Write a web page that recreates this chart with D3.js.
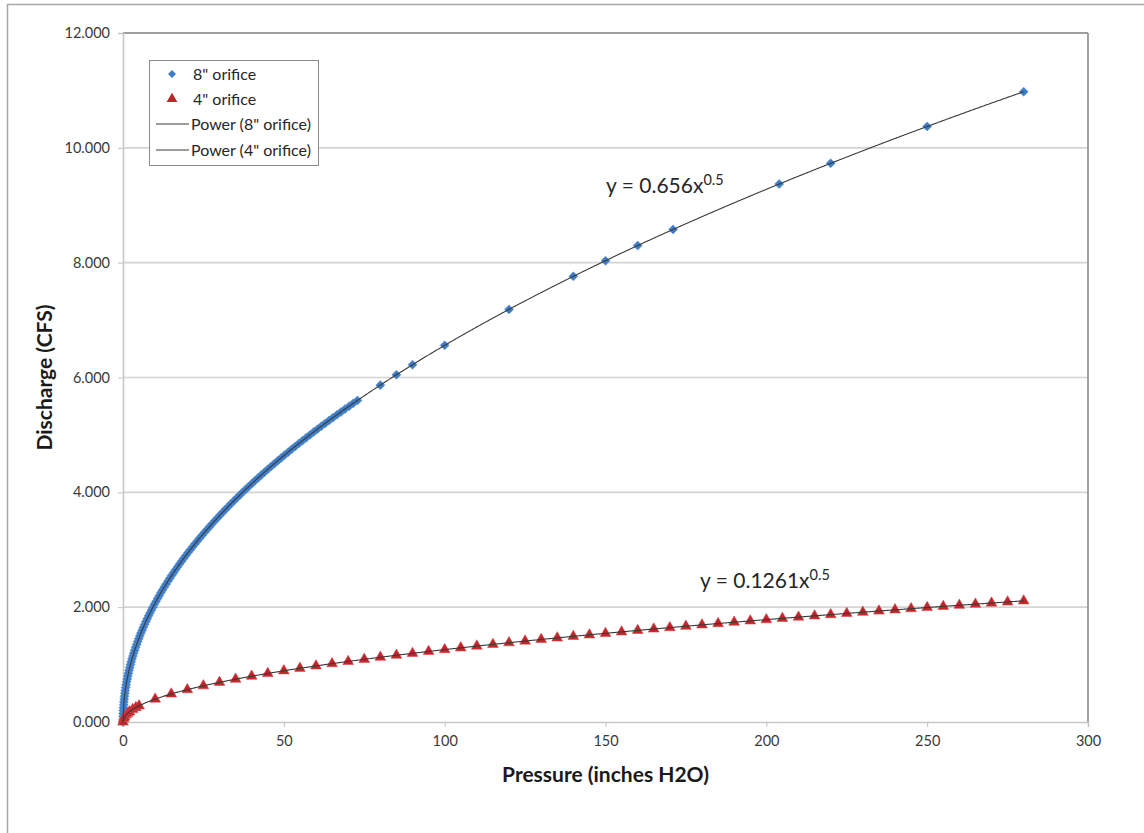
<!DOCTYPE html>
<html><head><meta charset="utf-8">
<script src="https://cdn.jsdelivr.net/npm/d3@7"></script>
<style>
html,body{margin:0;padding:0;background:#fff;}
svg{display:block;font-family:Lato,"Open Sans",sans-serif;}
</style></head><body>
<svg id="chart" width="1144" height="833"></svg>
<script>
// 8" orifice, dense low-pressure readings
const dense8X = [0,0.01,0.02,0.05,0.09,0.15,0.21,0.28,0.37,0.47,0.58,0.70,0.84,0.98,1.14,1.31,1.49,1.68,1.88,2.10,2.32,2.56,2.81,3.07,3.35,3.63,3.93,4.24,4.55,4.89,5.23,5.58,5.95,6.33,6.72,7.12,7.53,7.95,8.39,8.84,9.30,9.77,10.25,10.74,11.25,11.76,12.29,12.83,13.38,13.95,14.52,15.11,15.71,16.32,16.94,17.57,18.22,18.87,19.54,20.22,20.91,21.62,22.33,23.06,23.80,24.54,25.31,26.08,26.86,27.66,28.47,29.29,30.12,30.96,31.81,32.68,33.56,34.44,35.34,36.26,37.18,38.12,39.06,40.02,40.99,41.97,42.97,43.97,44.99,46.02,47.06,48.11,49.17,50.25,51.33,52.43,53.54,54.66,55.79,56.94,58.09,59.26,60.44,61.63,62.83,64.05,65.27,66.51,67.76,69.02,70.29,71.58,72.87];
const dense8Y = [0,0.05,0.10,0.15,0.20,0.25,0.30,0.35,0.40,0.45,0.50,0.55,0.60,0.65,0.70,0.75,0.80,0.85,0.90,0.95,1.00,1.05,1.10,1.15,1.20,1.25,1.30,1.35,1.40,1.45,1.50,1.55,1.60,1.65,1.70,1.75,1.80,1.85,1.90,1.95,2.00,2.05,2.10,2.15,2.20,2.25,2.30,2.35,2.40,2.45,2.50,2.55,2.60,2.65,2.70,2.75,2.80,2.85,2.90,2.95,3.00,3.05,3.10,3.15,3.20,3.25,3.30,3.35,3.40,3.45,3.50,3.55,3.60,3.65,3.70,3.75,3.80,3.85,3.90,3.95,4.00,4.05,4.10,4.15,4.20,4.25,4.30,4.35,4.40,4.45,4.50,4.55,4.60,4.65,4.70,4.75,4.80,4.85,4.90,4.95,5.00,5.05,5.10,5.15,5.20,5.25,5.30,5.35,5.40,5.45,5.50,5.55,5.60];
// 8" orifice, high-pressure readings
const sparse8X = [80,85,90,100,120,140,150,160,171,204,220,250,280];
const sparse8Y = [5.867,6.048,6.223,6.560,7.186,7.762,8.034,8.298,8.578,9.370,9.730,10.372,10.977];
// 4" orifice
const orif4X = [0,0.25,0.5,1,1.5,2,3,4,5,10,15,20,25,30,35,40,45,50,55,60,65,70,75,80,85,90,95,100,105,110,115,120,125,130,135,140,145,150,155,160,165,170,175,180,185,190,195,200,205,210,215,220,225,230,235,240,245,250,255,260,265,270,275,280];
const orif4Y = [0,0.063,0.089,0.126,0.154,0.178,0.218,0.252,0.282,0.399,0.488,0.564,0.631,0.691,0.746,0.798,0.846,0.892,0.935,0.977,1.017,1.055,1.092,1.128,1.163,1.196,1.229,1.261,1.292,1.323,1.352,1.381,1.410,1.438,1.465,1.492,1.518,1.544,1.570,1.595,1.620,1.644,1.668,1.692,1.715,1.738,1.761,1.783,1.805,1.827,1.849,1.870,1.892,1.912,1.933,1.954,1.974,1.994,2.014,2.033,2.053,2.072,2.091,2.110];
// Power trendline coefficients (from the chart labels)
const fit8 = {a: 0.656, b: 0.5};
const fit4 = {a: 0.1261, b: 0.5};
const xTicks = [0,50,100,150,200,250,300];
const yTicks = [0,2,4,6,8,10,12];
const legendLabels = ['8" orifice','4" orifice','Power (8" orifice)','Power (4" orifice)'];

const svg = d3.select('#chart');
const L = 123, R = 1088, T = 33, B = 722;
const x = d3.scaleLinear().domain([0,300]).range([L,R]);
const y = d3.scaleLinear().domain([0,12]).range([B,T]);

// outer chart border
svg.append('rect').attr('x',7.5).attr('y',4.5).attr('width',1145).attr('height',840)
  .attr('fill','#fff').attr('stroke','#a6a6a6').attr('stroke-width',1.5);

// gridlines
svg.append('g').selectAll('line').data(yTicks.filter(d=>d>0)).join('line')
  .attr('x1',L).attr('x2',R).attr('y1',d=>y(d)).attr('y2',d=>y(d))
  .attr('stroke','#d4d4d4').attr('stroke-width',1.6);

// plot border top/right
svg.append('line').attr('x1',L).attr('x2',R).attr('y1',T).attr('y2',T).attr('stroke','#8a8a8a').attr('stroke-width',1.6);
svg.append('line').attr('x1',R).attr('x2',R).attr('y1',T).attr('y2',B).attr('stroke','#8a8a8a').attr('stroke-width',1.6);

// axes
const fmtY = d3.format('.3f');
const xAxis = svg.append('g').attr('transform',`translate(0,${B})`)
  .call(d3.axisBottom(x).tickValues(xTicks).tickSize(5).tickPadding(9).tickFormat(d3.format('d')));
const yAxis = svg.append('g').attr('transform',`translate(${L},0)`)
  .call(d3.axisLeft(y).tickValues(yTicks).tickSize(5).tickPadding(8).tickFormat(fmtY));
[xAxis,yAxis].forEach(g=>{
  g.select('.domain').attr('stroke','#c8c8c8').attr('stroke-width',1.6);
  g.selectAll('.tick line').attr('stroke','#c0c0c0');
  g.selectAll('.tick text').attr('fill','#3a3a3a').style('font-size','14.5px').style('font-family','Lato,"Open Sans",sans-serif');
});

// axis titles
svg.append('text').attr('x',(L+R)/2).attr('y',782).attr('text-anchor','middle')
  .style('font-size','21px').style('font-weight','bold').attr('fill','#1a1a1a').text('Pressure (inches H2O)');
svg.append('text').attr('transform',`translate(52,${(T+B)/2}) rotate(-90)`).attr('text-anchor','middle')
  .style('font-size','21px').style('font-weight','bold').attr('fill','#1a1a1a').text('Discharge (CFS)');

// markers
const blue = '#3f7cc6', red = '#c0252a';
const diamond = d3.symbol().type(d3.symbolDiamond2).size(52);
const tri = d3.symbol().type(d3.symbolTriangle).size(50);
const pts8 = dense8X.map((d,i)=>[d,dense8Y[i]]).concat(sparse8X.map((d,i)=>[d,sparse8Y[i]]));
const pts4 = orif4X.map((d,i)=>[d,orif4Y[i]]);
svg.append('g').selectAll('path').data(pts8).join('path')
  .attr('d',diamond).attr('transform',d=>`translate(${x(d[0])},${y(d[1])})`)
  .attr('fill',blue).attr('stroke','#5a93d8').attr('stroke-width',0.6);
svg.append('g').selectAll('path').data(pts4).join('path')
  .attr('d',tri).attr('transform',d=>`translate(${x(d[0])},${y(d[1])})`)
  .attr('fill',red).attr('stroke','#d84a4a').attr('stroke-width',0.6);

// trendlines
const line = d3.line().x(d=>x(d[0])).y(d=>y(d[1]));
function trend(f){ return d3.range(0,280.01,0.25).map(v=>[v,f.a*Math.pow(v,f.b)]); }
[fit8,fit4].forEach(f=>{
  svg.append('path').attr('d',line(trend(f))).attr('fill','none').attr('stroke','#3a3a3a').attr('stroke-width',1.1);
});

// equations
function eq(xp,yp,coef){
  const t = svg.append('text').attr('x',xp).attr('y',yp).style('font-size','21px').attr('fill','#262626');
  t.append('tspan').text('y = '+coef+'x');
  t.append('tspan').attr('dy',-8).style('font-size','14.5px').text('0.5');
}
eq(606,193,'0.656');
eq(700,588,'0.1261');

// legend
const lg = svg.append('g');
lg.append('rect').attr('x',149.5).attr('y',60.5).attr('width',169).attr('height',105)
  .attr('fill','#fff').attr('stroke','#8a8a8a').attr('stroke-width',1);
const rows = [74,99,124,150];
lg.append('path').attr('d',d3.symbol().type(d3.symbolDiamond2).size(40)).attr('transform',`translate(172,${rows[0]})`).attr('fill',blue);
lg.append('path').attr('d',tri).attr('transform',`translate(172,${rows[1]})`).attr('fill',red);
[2,3].forEach(i=>lg.append('line').attr('x1',156).attr('x2',189).attr('y1',rows[i]).attr('y2',rows[i]).attr('stroke','#3a3a3a').attr('stroke-width',1.1));
lg.selectAll('text').data(legendLabels).join('text')
  .attr('x',(d,i)=>i<2?193:191).attr('y',(d,i)=>rows[i]+5.5)
  .style('font-size','16px').attr('fill','#262626').text(d=>d);
</script></body></html>
